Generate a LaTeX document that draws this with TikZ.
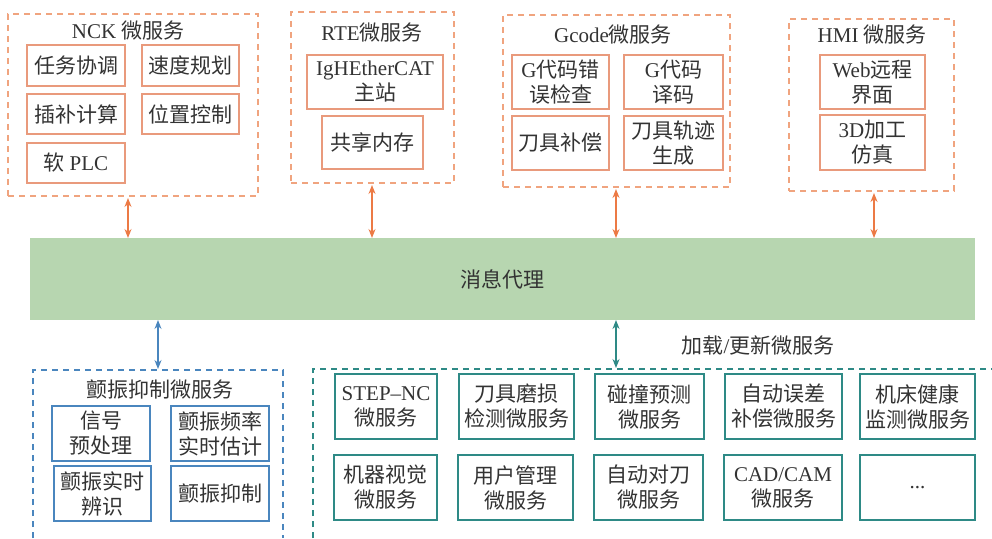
\documentclass[tikz,border=0pt]{standalone}
\usepackage{fontspec}
\setmainfont{Liberation Serif}
\newfontfamily\cjk{Noto Sans CJK SC}
\newfontfamily\lat{Liberation Serif}
\usetikzlibrary{arrows.meta}
\definecolor{orgdash}{HTML}{F0A47F}
\definecolor{orgbox}{HTML}{E99A7C}
\definecolor{orgarr}{HTML}{EC7A45}
\definecolor{greenbar}{HTML}{B7D6B0}
\definecolor{bluec}{HTML}{4A86BE}
\definecolor{tealc}{HTML}{2E8A86}
\definecolor{txt}{HTML}{333333}
\newcommand\bx[7]{%
  \pgfmathsetmacro\bxcx{(#3+#5)/2}%
  \pgfmathsetmacro\bxcy{(#4+#6)/2}%
  \pgfmathsetmacro\bxw{#5-#3}%
  \pgfmathsetmacro\bxh{#6-#4}%
  \node[#1, minimum width=\bxw pt, minimum height=\bxh pt] (#2) at (\bxcx,\bxcy) {#7};}
\begin{document}
\begin{tikzpicture}[x=1pt,y=-1pt,
  every node/.style={text=txt, font=\cjk\fontsize{21}{25}\selectfont, align=center, inner sep=1pt, outer sep=0pt},
  obox/.style={draw=orgbox, line width=1.3pt},
  bbox/.style={draw=bluec, line width=1.3pt},
  tbox/.style={draw=tealc, line width=1.3pt},
  odash/.style={draw=orgdash, line width=1.2pt, dash pattern=on 6pt off 5pt},
  bdash/.style={draw=bluec, line width=1.2pt, dash pattern=on 6pt off 5pt},
  tdash/.style={draw=tealc, line width=1.2pt, dash pattern=on 6pt off 5pt},
  dbl/.style={{Stealth[length=9pt,width=7pt]}-{Stealth[length=9pt,width=7pt]}, line width=1.3pt},
  ttl/.style={inner sep=0pt}]
\useasboundingbox (0,0) rectangle (992,538);
% NCK
\bx{odash}{nck}{8}{14}{258}{196}{}
\node[ttl] (nckt) at (128,31) {{\lat NCK} 微服务};
\bx{obox}{n1}{27}{45}{125}{86}{任务协调}
\bx{obox}{n2}{142}{45}{239}{86}{速度规划}
\bx{obox}{n3}{27}{94}{125}{134}{插补计算}
\bx{obox}{n4}{142}{94}{239}{134}{位置控制}
\bx{obox}{n5}{27}{143}{125}{183}{软 {\lat PLC}}
% RTE
\bx{odash}{rte}{291}{12}{454}{183}{}
\node[ttl] (rtet) at (372,33) {{\lat RTE}微服务};
\bx{obox}{r1}{307}{55}{443}{109}{{\lat IgHEtherCAT}\\主站}
\bx{obox}{r2}{322}{116}{423}{169}{共享内存}
% Gcode
\bx{odash}{gc}{503}{15}{730}{187}{}
\node[ttl] (gct) at (613,35) {{\lat Gcode}微服务};
\bx{obox}{g1}{512}{55}{609}{109}{{\lat G}代码错\\误检查}
\bx{obox}{g2}{624}{55}{723}{109}{{\lat G}代码\\译码}
\bx{obox}{g3}{512}{116}{609}{170}{刀具补偿}
\bx{obox}{g4}{624}{116}{723}{170}{刀具轨迹\\生成}
% HMI
\bx{odash}{hmi}{789}{19}{954}{191}{}
\node[ttl] (hmit) at (872,35) {{\lat HMI} 微服务};
\bx{obox}{h1}{820}{55}{925}{109}{{\lat Web}远程\\界面}
\bx{obox}{h2}{820}{115}{925}{170}{{\lat 3D}加工\\仿真}
% message broker
\bx{fill=greenbar}{mb}{30}{238}{975}{320}{消息代理}
% orange arrows
\draw[dbl, orgarr] (nck.south -| 128,0) ++(0,2) -- (mb.north -| 128,0);
\draw[dbl, orgarr] (rte.south -| 372,0) ++(0,2) -- (mb.north -| 372,0);
\draw[dbl, orgarr] (gc.south -| 616,0) ++(0,2) -- (mb.north -| 616,0);
\draw[dbl, orgarr] (hmi.south -| 874,0) ++(0,2) -- (mb.north -| 874,0);
% chatter suppression
\coordinate (bl1) at (33,538);
\coordinate (bl2) at (283,538);
\coordinate (btop) at (158,369);
\draw[bdash] (bl1) -- (33,370) -- (283,370) -- (bl2);
\node[ttl] (cht) at (160,390) {颤振抑制微服务};
\bx{bbox}{c1}{52}{406}{150}{461}{信号\\预处理}
\bx{bbox}{c2}{171}{406}{269}{461}{颤振频率\\实时估计}
\bx{bbox}{c3}{54}{466}{151}{521}{颤振实时\\辨识}
\bx{bbox}{c4}{171}{466}{269}{521}{颤振抑制}
\draw[dbl, bluec] (mb.south -| 158,0) -- (btop);
% loaded microservices
\coordinate (tl1) at (313,538);
\coordinate (tr1) at (992,369);
\coordinate (ttop) at (616,368);
\draw[tdash] (tl1) -- (313,369) -- (tr1);
\draw[dbl, tealc] (mb.south -| 616,0) -- (ttop);
\node[ttl] (load) at (758,345) {加载{\lat /}更新微服务};
\bx{tbox}{s1}{335}{374}{437}{439}{{\lat STEP–NC}\\微服务}
\bx{tbox}{s2}{459}{374}{574}{439}{刀具磨损\\检测微服务}
\bx{tbox}{s3}{595}{374}{704}{439}{碰撞预测\\微服务}
\bx{tbox}{s4}{725}{374}{842}{439}{自动误差\\补偿微服务}
\bx{tbox}{s5}{860}{374}{975}{439}{机床健康\\监测微服务}
\bx{tbox}{s6}{334}{455}{437}{520}{机器视觉\\微服务}
\bx{tbox}{s7}{458}{455}{573}{520}{用户管理\\微服务}
\bx{tbox}{s8}{594}{455}{703}{520}{自动对刀\\微服务}
\bx{tbox}{s9}{724}{455}{842}{520}{{\lat CAD/CAM}\\微服务}
\bx{tbox}{s10}{860}{455}{975}{520}{{\lat ...}}
\end{tikzpicture}
\end{document}
